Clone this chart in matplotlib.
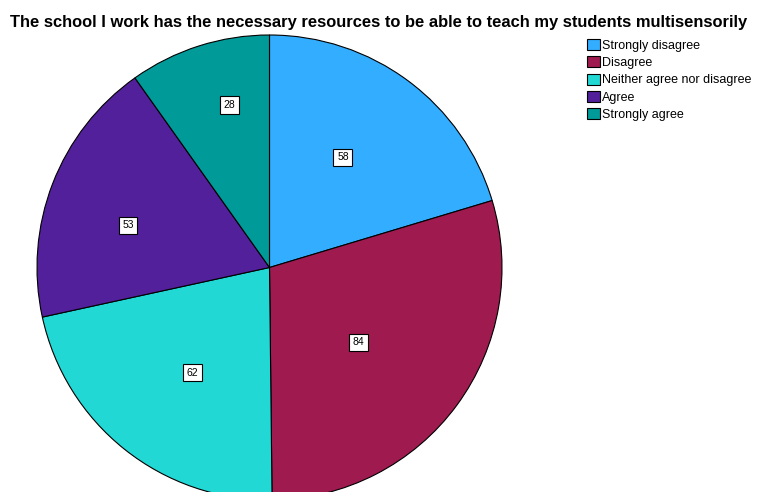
import numpy as np
import matplotlib.pyplot as plt

plt.rcParams['font.family'] = ['Liberation Sans', 'DejaVu Sans']

categories = ["Strongly disagree", "Disagree", "Neither agree nor disagree",
              "Agree", "Strongly agree"]
counts = [58, 84, 62, 53, 28]
colours = ["#33adff", "#9f1a4e", "#22d8d4", "#52209a", "#009a98"]
# count label placement: fraction of radius, and turn (deg) away from wedge middle
label_r = [0.57, 0.50, 0.56, 0.635, 0.72]
label_turn = [3.0, -3.8, 2.3, 4.5, -3.7]

fig = plt.figure(figsize=(7.58, 4.92), dpi=100)
ax = fig.add_axes([37 / 758, -8 / 492, 465 / 758, 465 / 492])

wedges, _ = ax.pie(counts, colors=colours, startangle=90, counterclock=False,
                   wedgeprops=dict(edgecolor="black", linewidth=0.8))
for w, c, r, dt in zip(wedges, counts, label_r, label_turn):
    mid = np.deg2rad((w.theta1 + w.theta2) / 2 + dt)
    ax.text(r * np.cos(mid), r * np.sin(mid), str(c), fontsize=7.5,
            ha="center", va="center",
            bbox=dict(boxstyle="square,pad=0.35", facecolor="white",
                      edgecolor="black", linewidth=0.8))
ax.set_xlim(-1, 1)
ax.set_ylim(-1, 1)
ax.set_aspect("equal")

fig.text(0.5, 1 - 22 / 492, "The school I work has the necessary resources to be able to teach my students multisensorily",
         ha="center", va="center", fontsize=11.9, fontweight="bold")

leg = fig.legend(wedges, categories, loc="upper left", bbox_to_anchor=(587 / 758, 1 - 39 / 492),
                 frameon=False, fontsize=9, handlelength=1.0, handleheight=1.0,
                 handletextpad=0.2, labelspacing=0.35, borderpad=0, borderaxespad=0)

fig.savefig("out.png", dpi=100)
